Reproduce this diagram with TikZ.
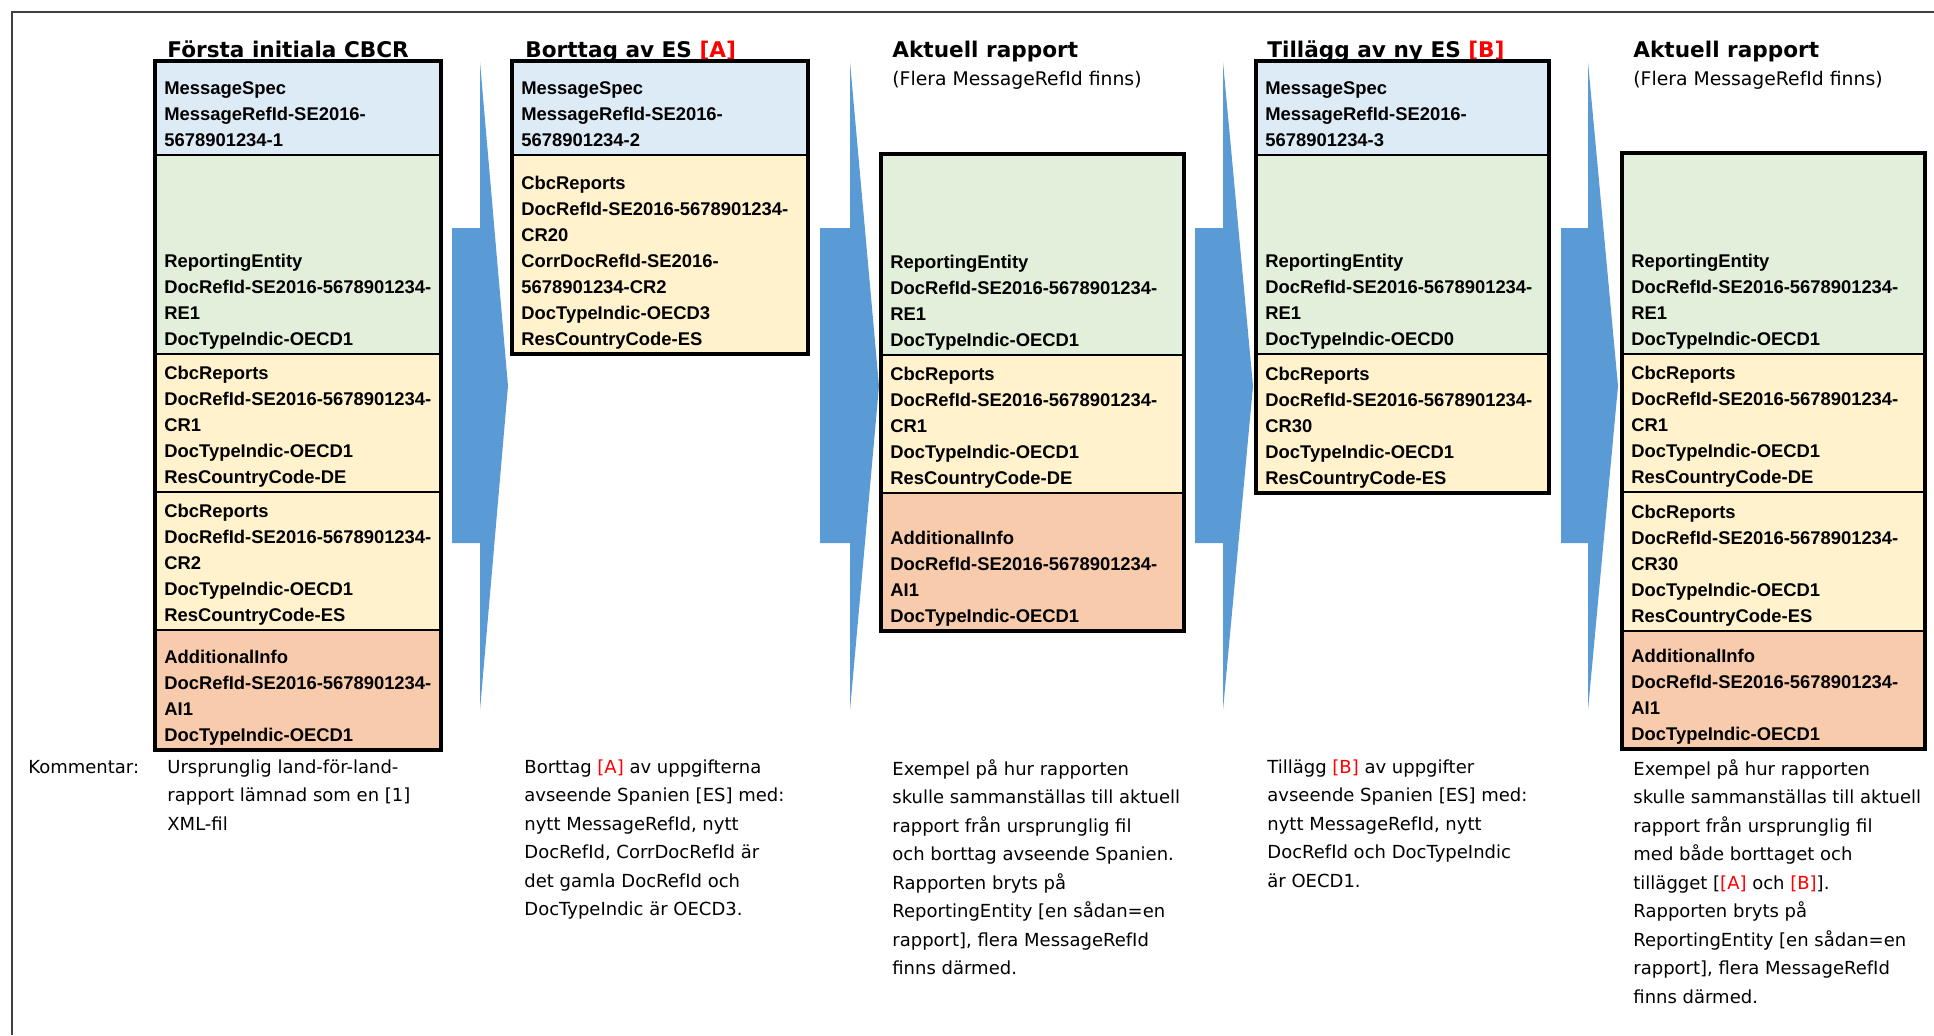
\documentclass[tikz,border=0pt]{standalone}
\usepackage{fontspec}
\setmainfont{DejaVu Sans}
\newfontfamily\cellfont{Liberation Sans}
\usetikzlibrary{positioning}

\definecolor{msblue}{HTML}{DDEBF7}
\definecolor{regreen}{HTML}{E2EFDA}
\definecolor{cryellow}{HTML}{FFF2CC}
\definecolor{aiorange}{HTML}{F8CBAD}
\definecolor{arrowblue}{HTML}{5B9BD5}

\tikzset{
  cellbox/.style={draw=black, line width=0.6pt},
  outerbox/.style={draw=black, line width=2.2pt},
  celltext/.style={anchor=south west, align=left, inner xsep=4.5pt, inner ysep=0pt,
    font=\cellfont\bfseries\fontsize{9.2}{13}\selectfont, execute at end node=\strut},
  coltitle/.style={anchor=base west, inner sep=0pt, font=\bfseries\fontsize{10.8}{13}\selectfont},
  colsub/.style={anchor=base west, inner sep=0pt, font=\fontsize{9.4}{13}\selectfont},
  commenttext/.style={anchor=north west, align=left, inner sep=0pt,
    font=\fontsize{9}{14.25}\selectfont, execute at begin node=\strut},
  blockarrow/.style={fill=arrowblue, draw=none},
}

\begin{document}
\begin{tikzpicture}[x=0.5pt, y=-0.5pt]
    \useasboundingbox (0,0) rectangle (1934,1035);

    % Sheet frame (top and left edge)
    \draw[line width=1pt, black!75] (1934,12) -- (12,12) -- (12,1035);

    % Column 1: first initial report
    \node[coltitle] (t1) at (167,57) {Första initiala CBCR};
    \draw[cellbox, fill=msblue]   (155,61)  rectangle (441,155);
    \draw[cellbox, fill=regreen]  (155,155) rectangle (441,354);
    \draw[cellbox, fill=cryellow] (155,354) rectangle (441,492);
    \draw[cellbox, fill=cryellow] (155,492) rectangle (441,630);
    \draw[cellbox, fill=aiorange] (155,630) rectangle (441,750);
    \draw[outerbox] (155,61) rectangle (441,750);
    \node[celltext] (a-ms)  at (155,155) {MessageSpec\\MessageRefId-SE2016-\\5678901234-1};
    \node[celltext] (a-re)  at (155,354) {ReportingEntity\\DocRefId-SE2016-5678901234-\\RE1\\DocTypeIndic-OECD1};
    \node[celltext] (a-cr1) at (155,492) {CbcReports\\DocRefId-SE2016-5678901234-\\CR1\\DocTypeIndic-OECD1\\ResCountryCode-DE};
    \node[celltext] (a-cr2) at (155,630) {CbcReports\\DocRefId-SE2016-5678901234-\\CR2\\DocTypeIndic-OECD1\\ResCountryCode-ES};
    \node[celltext] (a-ai)  at (155,750) {AdditionalInfo\\DocRefId-SE2016-5678901234-\\AI1\\DocTypeIndic-OECD1};

    % Column 2: deletion of ES [A]
    \node[coltitle] (t2) at (525,57) {Borttag av ES \textcolor{red}{[A]}};
    \draw[cellbox, fill=msblue]   (512,61)  rectangle (808,155);
    \draw[cellbox, fill=cryellow] (512,155) rectangle (808,354);
    \draw[outerbox] (512,61) rectangle (808,354);
    \node[celltext] (b-ms) at (512,155) {MessageSpec\\MessageRefId-SE2016-\\5678901234-2};
    \node[celltext] (b-cr) at (512,354) {CbcReports\\DocRefId-SE2016-5678901234-\\CR20\\CorrDocRefId-SE2016-\\5678901234-CR2\\DocTypeIndic-OECD3\\ResCountryCode-ES};

    % Column 3: current report after deletion
    \node[coltitle] (t3) at (892,57) {Aktuell rapport};
    \node[colsub] (t3-sub) at (892,85) {(Flera MessageRefId finns)};
    \draw[cellbox, fill=regreen]  (881,154) rectangle (1184,355);
    \draw[cellbox, fill=cryellow] (881,355) rectangle (1184,493);
    \draw[cellbox, fill=aiorange] (881,493) rectangle (1184,631);
    \draw[outerbox] (881,154) rectangle (1184,631);
    \node[celltext] (c-re)  at (881,355) {ReportingEntity\\DocRefId-SE2016-5678901234-\\RE1\\DocTypeIndic-OECD1};
    \node[celltext] (c-cr1) at (881,493) {CbcReports\\DocRefId-SE2016-5678901234-\\CR1\\DocTypeIndic-OECD1\\ResCountryCode-DE};
    \node[celltext] (c-ai)  at (881,631) {AdditionalInfo\\DocRefId-SE2016-5678901234-\\AI1\\DocTypeIndic-OECD1};

    % Column 4: new ES added [B]
    \node[coltitle] (t4) at (1267,57) {Tillägg av ny ES \textcolor{red}{[B]}};
    \draw[cellbox, fill=msblue]   (1256,61)  rectangle (1549,155);
    \draw[cellbox, fill=regreen]  (1256,155) rectangle (1549,354);
    \draw[cellbox, fill=cryellow] (1256,354) rectangle (1549,493);
    \draw[outerbox] (1256,61) rectangle (1549,493);
    \node[celltext] (d-ms) at (1256,155) {MessageSpec\\MessageRefId-SE2016-\\5678901234-3};
    \node[celltext] (d-re) at (1256,354) {ReportingEntity\\DocRefId-SE2016-5678901234-\\RE1\\DocTypeIndic-OECD0};
    \node[celltext] (d-cr) at (1256,493) {CbcReports\\DocRefId-SE2016-5678901234-\\CR30\\DocTypeIndic-OECD1\\ResCountryCode-ES};

    % Column 5: current report after deletion and addition
    \node[coltitle] (t5) at (1633,57) {Aktuell rapport};
    \node[colsub] (t5-sub) at (1633,85) {(Flera MessageRefId finns)};
    \draw[cellbox, fill=regreen]  (1622,153) rectangle (1925,354);
    \draw[cellbox, fill=cryellow] (1622,354) rectangle (1925,492);
    \draw[cellbox, fill=cryellow] (1622,492) rectangle (1925,631);
    \draw[cellbox, fill=aiorange] (1622,631) rectangle (1925,749);
    \draw[outerbox] (1622,153) rectangle (1925,749);
    \node[celltext] (e-re)  at (1622,354) {ReportingEntity\\DocRefId-SE2016-5678901234-\\RE1\\DocTypeIndic-OECD1};
    \node[celltext] (e-cr1) at (1622,492) {CbcReports\\DocRefId-SE2016-5678901234-\\CR1\\DocTypeIndic-OECD1\\ResCountryCode-DE};
    \node[celltext] (e-cr2) at (1622,631) {CbcReports\\DocRefId-SE2016-5678901234-\\CR30\\DocTypeIndic-OECD1\\ResCountryCode-ES};
    \node[celltext] (e-ai)  at (1622,749) {AdditionalInfo\\DocRefId-SE2016-5678901234-\\AI1\\DocTypeIndic-OECD1};

    % Block arrows between the columns
    \fill[blockarrow] (452,228) -- (480,228) -- (480,62) -- (508,386) -- (480,710) -- (480,543) -- (452,543) -- cycle;
    \fill[blockarrow] (820,228) -- (850,228) -- (850,62) -- (879,386) -- (850,710) -- (850,543) -- (820,543) -- cycle;
    \fill[blockarrow] (1195,228) -- (1223,228) -- (1223,62) -- (1253,386) -- (1223,710) -- (1223,543) -- (1195,543) -- cycle;
    \fill[blockarrow] (1561,228) -- (1588,228) -- (1588,62) -- (1618,386) -- (1588,710) -- (1588,543) -- (1561,543) -- cycle;

    % Comments
    \node[commenttext] (kom) at (28,753) {Kommentar:};
    \node[commenttext] (k1) at (167,759) {Ursprunglig land-för-land-\\rapport lämnad som en [1]\\XML-fil};
    \node[commenttext] (k2) at (524,759) {Borttag \textcolor{red}{[A]} av uppgifterna\\avseende Spanien [ES] med:\\nytt MessageRefId, nytt\\DocRefId, CorrDocRefId är\\det gamla DocRefId och\\DocTypeIndic är OECD3.};
    \node[commenttext] (k3) at (892,759) {Exempel på hur rapporten\\skulle sammanställas till aktuell\\rapport från ursprunglig fil\\och borttag avseende Spanien.\\Rapporten bryts på\\ReportingEntity [en sådan=en\\rapport], flera MessageRefId\\finns därmed.};
    \node[commenttext] (k4) at (1267,759) {Tillägg \textcolor{red}{[B]} av uppgifter\\avseende Spanien [ES] med:\\nytt MessageRefId, nytt\\DocRefId och DocTypeIndic\\är OECD1.};
    \node[commenttext] (k5) at (1633,759) {Exempel på hur rapporten\\skulle sammanställas till aktuell\\rapport från ursprunglig fil\\med både borttaget och\\tillägget [\textcolor{red}{[A]} och \textcolor{red}{[B]}].\\Rapporten bryts på\\ReportingEntity [en sådan=en\\rapport], flera MessageRefId\\finns därmed.};
\end{tikzpicture}
\end{document}
